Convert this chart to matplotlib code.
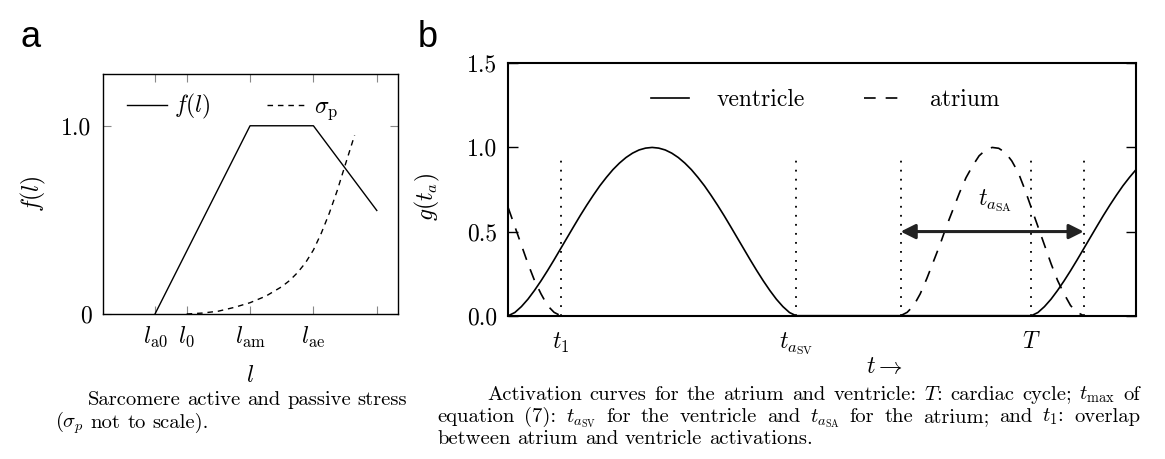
import matplotlib
matplotlib.use("Agg")
import matplotlib.pyplot as plt

plt.rcParams['font.family'] = 'serif'
plt.rcParams['font.serif'] = ['cmr10']
plt.rcParams['mathtext.fontset'] = 'cm'
plt.rcParams['axes.unicode_minus'] = False
plt.rcParams['axes.formatter.use_mathtext'] = True

# ---------------- Panel a data ----------------
f_l = [1.7, 2.0, 2.2, 2.4]
f_val = [0.0, 1.0, 1.0, 0.55]
sig_l = [1.80, 1.85, 1.90, 1.95, 2.00, 2.05, 2.10, 2.125, 2.15, 2.175, 2.20, 2.225,
         2.25, 2.275, 2.30, 2.33]
sig_val = [0.0, 0.005, 0.015, 0.035, 0.06, 0.095, 0.145, 0.178, 0.22, 0.272, 0.34, 0.43,
           0.535, 0.655, 0.79, 0.95]
a_xticks = [1.7, 1.8, 2.0, 2.2, 2.4]
a_xticklabels = [r'$l_{\rm a0}$', r'$l_0$', r'$l_{\rm am}$', r'$l_{\rm ae}$', '']
a_yticks = [0.0, 1.0]
a_yticklabels = ['0', '1.0']

# ---------------- Panel b data ----------------
vent_t = [0.0, 0.0125, 0.025, 0.0375, 0.05, 0.0625, 0.075, 0.0875, 0.1, 0.1125,
          0.125, 0.1375, 0.15, 0.1625, 0.175, 0.1875, 0.2, 0.2125, 0.225, 0.2375,
          0.25, 0.2625, 0.275, 0.2875, 0.3, 0.3125, 0.325, 0.3375, 0.35, 0.3625,
          0.375, 0.3875, 0.4, 0.4125, 0.425, 0.4375, 0.45, 0.4625, 0.475, 0.4875,
          0.5, 0.5125, 0.525, 0.5375, 0.55,
          1.0, 1.0125, 1.025, 1.0375, 1.05, 1.0625, 1.075, 1.0875, 1.1, 1.1125,
          1.125, 1.1375, 1.15, 1.1625, 1.175, 1.1875, 1.2]
vent_g = [0.0, 0.019, 0.054, 0.098, 0.15, 0.207, 0.268, 0.332, 0.398, 0.464,
          0.53, 0.595, 0.657, 0.716, 0.772, 0.822, 0.868, 0.907, 0.94, 0.966,
          0.985, 0.996, 1.0, 0.996, 0.985, 0.966, 0.94, 0.907, 0.868, 0.822,
          0.772, 0.716, 0.657, 0.595, 0.53, 0.464, 0.398, 0.332, 0.268, 0.207,
          0.15, 0.098, 0.054, 0.019, 0.0,
          0.0, 0.019, 0.054, 0.098, 0.15, 0.207, 0.268, 0.332, 0.398, 0.464,
          0.53, 0.595, 0.657, 0.716, 0.772, 0.822, 0.868]
atr_t_early = [0.0, 0.0125, 0.025, 0.0375, 0.05, 0.0625, 0.075, 0.0875, 0.1]
atr_g_early = [0.64, 0.53, 0.42, 0.31, 0.21, 0.13, 0.06, 0.02, 0.0]
atr_t = [0.75, 0.7625, 0.775, 0.7875, 0.8, 0.8125, 0.825, 0.8375, 0.85, 0.8625,
         0.875, 0.8875, 0.9, 0.9125, 0.925, 0.9375, 0.95, 0.9625, 0.975, 0.9875,
         1.0, 1.0125, 1.025, 1.0375, 1.05, 1.0625, 1.075, 1.0875, 1.1]
atr_g = [0.0, 0.02, 0.06, 0.13, 0.22, 0.32, 0.42, 0.53, 0.63, 0.73,
         0.82, 0.89, 0.95, 0.985, 1.0, 0.995, 0.97, 0.92, 0.85, 0.75,
         0.64, 0.53, 0.42, 0.31, 0.21, 0.13, 0.06, 0.02, 0.0]
b_marks = [0.1, 0.55, 0.75, 1.0, 1.1]
b_xticks = [0.1, 0.55, 1.0]
b_xticklabels = [r'$t_1$', r'$t_{a_{\rm SV}}$', r'$T$']
b_yticks = [0.0, 0.5, 1.0, 1.5]
b_yticklabels = ['0.0', '0.5', '1.0', '1.5']
arrow_span = (0.75, 1.1)
arrow_y = 0.5

W, H = 1165, 459
fig = plt.figure(figsize=(W / 100, H / 100), dpi=100)

def rect(x0, y0, x1, y1):
    return [x0 / W, 1 - y1 / H, (x1 - x0) / W, (y1 - y0) / H]

FS = 17

# ---------------- Panel a ----------------
axa = fig.add_axes(rect(102.7, 74, 397.7, 314))
axa.plot(f_l, f_val, color='black', lw=1.0, label=r'$f(l)$')
axa.plot(sig_l, sig_val, color='black', lw=1.0, dashes=(4, 3.5), label=r'$\sigma_{\rm p}$')
axa.set_xlim(1.535, 2.466)
axa.set_ylim(0, 1.275)
axa.set_xticks(a_xticks)
axa.set_xticklabels(a_xticklabels, fontsize=FS)
axa.set_yticks(a_yticks)
axa.set_yticklabels(a_yticklabels, fontsize=FS)
axa.tick_params(direction='in', top=True, right=True, length=6, width=0.8,
                color='#888888', pad=8)
for s in axa.spines.values():
    s.set_linewidth(1.0)
axa.set_ylabel(r'$f(l)$', fontsize=FS)
axa.yaxis.set_label_coords(-0.185, 0.5)
axa.set_xlabel(r'$l$', fontsize=FS)
axa.xaxis.set_label_coords(0.5, -0.21)
axa.legend(loc='center', bbox_to_anchor=(0.44, 0.8625), ncol=2, frameon=False,
           fontsize=FS, handlelength=1.7, handletextpad=0.3, columnspacing=2.4,
           borderpad=0, borderaxespad=0)

# ---------------- Panel b ----------------
axb = fig.add_axes(rect(508.3, 63.3, 1136, 315.7))
axb.plot(vent_t, vent_g, color='black', lw=1.2, label='ventricle')
axb.plot(atr_t, atr_g, color='black', lw=1.2, dashes=(7, 6), label='atrium')
axb.plot(atr_t_early, atr_g_early, color='black', lw=1.2, dashes=(7, 6))
for xm in b_marks:
    axb.plot([xm, xm], [0, 0.95], color='black', lw=1.3, linestyle=(0, (1, 4)))
axb.annotate('', xy=(arrow_span[0], arrow_y), xytext=(arrow_span[1], arrow_y),
             arrowprops=dict(arrowstyle='<|-|>', color='#222222', lw=2.2,
                             mutation_scale=22, shrinkA=0, shrinkB=0))
axb.text(0.93, 0.68, r'$t_{a_{\rm SA}}$', fontsize=FS, ha='center', va='center')
axb.set_xlim(0, 1.2)
axb.set_ylim(0, 1.5)
axb.set_xticks(b_xticks)
axb.set_xticklabels(b_xticklabels, fontsize=FS)
axb.set_yticks(b_yticks)
axb.set_yticklabels(b_yticklabels, fontsize=FS)
axb.tick_params(axis='y', direction='in', right=True, length=7, width=1.0, pad=8)
axb.tick_params(axis='x', length=0, pad=11)
for s in axb.spines.values():
    s.set_linewidth(1.5)
axb.set_ylabel(r'$g(t_a)$', fontsize=FS)
axb.yaxis.set_label_coords(-0.105, 0.47)
axb.set_xlabel(r'$t\rightarrow$', fontsize=FS)
axb.xaxis.set_label_coords(0.6, -0.16)
axb.legend(loc='center', bbox_to_anchor=(0.505, 0.855), ncol=2, frameon=False,
           fontsize=FS, handlelength=1.6, handletextpad=1.2, columnspacing=2.5,
           borderpad=0, borderaxespad=0)

# ---------------- Panel letters ----------------
fig.text(20 / W, 1 - 47 / H, 'a', fontsize=26, family='Liberation Sans', va='baseline')
fig.text(418 / W, 1 - 47 / H, 'b', fontsize=26, family='Liberation Sans', va='baseline')

# ---------------- Captions (justified) ----------------
CFS = 14.8
fig.canvas.draw()
renderer = fig.canvas.get_renderer()

def measure(s):
    t = fig.text(0, 0, s, fontsize=CFS, va='baseline')
    w = t.get_window_extent(renderer).width
    t.remove()
    return w

SPACE = measure('a a') - measure('aa')

def line_text(words, x0, x1, ybase, justify):
    widths = [measure(w) for w in words]
    if justify and len(words) > 1:
        gap = (x1 - x0 - sum(widths)) / (len(words) - 1)
    else:
        gap = SPACE
    x = x0
    for w, wd in zip(words, widths):
        fig.text(x / W, 1 - ybase / H, w, fontsize=CFS, va='baseline')
        x += wd + gap

cap_a = [
    (['Sarcomere', 'active', 'and', 'passive', 'stress'], 88, 407, 405, True),
    ([r'($\sigma_p$', 'not', 'to', 'scale).'], 55, 407, 428, False),
]
cap_b = [
    (['Activation', 'curves', 'for', 'the', 'atrium', 'and', 'ventricle:', r'$T$:',
      'cardiac', 'cycle;', r'$t_{\rm max}$', 'of'], 487, 1140, 400, True),
    (['equation', '(7):', r'$t_{a_{\rm SV}}$', 'for', 'the', 'ventricle', 'and',
      r'$t_{a_{\rm SA}}$', 'for', 'the', 'atrium;', 'and', r'$t_1$:', 'overlap'],
     437, 1140, 422, True),
    (['between', 'atrium', 'and', 'ventricle', 'activations.'], 437, 1140, 444, False),
]
for words, x0, x1, yb, j in cap_a + cap_b:
    line_text(words, x0, x1, yb, j)

fig.savefig('out.png', dpi=100)
